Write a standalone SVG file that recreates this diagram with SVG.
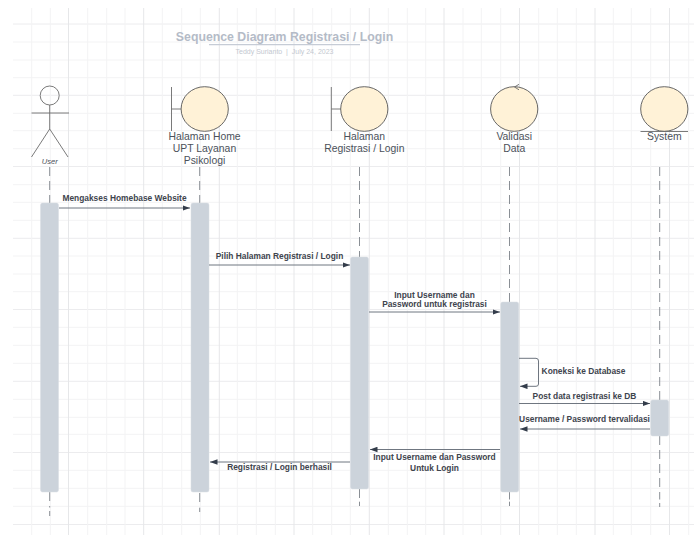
<svg xmlns="http://www.w3.org/2000/svg" width="694" height="535" viewBox="0 0 694 535">
<style>
text{font-family:"Liberation Sans",Arial,sans-serif;text-anchor:middle}
.gmin{stroke:#f3f3f4;stroke-width:1;fill:none}
.gmaj{stroke:#e6e7e9;stroke-width:1;fill:none}
.hmaj{stroke:#ececee;stroke-width:1;fill:none}
.life{stroke:#6c727a;stroke-width:.8;stroke-dasharray:9 5;fill:none}
.act{fill:#ccd3db;stroke:#d8dde3;stroke-width:.5}
.ball{fill:#fff2d7;stroke:#565656;stroke-width:.9}
.sym{stroke:#6b6b6b;stroke-width:.9;fill:none}
.name{font-size:10.4px;fill:#4b515a}
.msg{font-size:8.4px;font-weight:bold;fill:#3e444d}
.conn{stroke:#6f7680;stroke-width:1;fill:none;marker-end:url(#ah)}
</style>
<defs>
<marker id="ah" markerUnits="userSpaceOnUse" markerWidth="9" markerHeight="6" refX="7.5" refY="3" orient="auto"><path d="M0 .2L7.5 3L0 5.8z" fill="#333c4a"/></marker>
</defs>
<rect width="694" height="535" fill="#fff"/>
<g id="grid">
<path class="gmin" d="M13 42H694M13 60H694M13 77.7H694M13 113.3H694M13 130.7H694M13 148.7H694M13 184.7H694M13 202.3H694M13 220.3H694M13 256H694M13 274H694M13 291.7H694M13 327.3H694M13 345.3H694M13 363.3H694M13 399.3H694M13 417.3H694M13 434.3H694M13 470.3H694M13 488.3H694M13 506.3H694"/>
<path class="hmaj" d="M13 24H694M13 95.3H694M13 166.5H694M13 238.3H694M13 309.5H694M13 381.3H694M13 452.5H694M13 524.5H694"/>
<path class="gmin" d="M31.7 8V535M50.3 8V535M87.7 8V535M106.7 8V535M125 8V535M162.3 8V535M181.7 8V535M200.3 8V535M237.3 8V535M256.3 8V535M275.3 8V535M312.7 8V535M331.7 8V535M350.3 8V535M388.3 8V535M407.3 8V535M425.7 8V535M463 8V535M481.3 8V535M500.7 8V535M538.7 8V535M557.3 8V535M576.3 8V535M613.3 8V535M631.3 8V535M650.7 8V535M688.7 8V535"/>
<path class="gmaj" d="M68.5 8V535M143.7 8V535M219.3 8V535M294 8V535M369.3 8V535M444 8V535M519.5 8V535M595 8V535M669.5 8V535"/>
</g>
<g id="title">
<text x="284.500" y="40.500" font-size="12.300" font-weight="bold" fill="#b4bbc7">Sequence Diagram Registrasi / Login</text>
<path d="M209 44.700H360" stroke="#c6ccd6" stroke-width="1.200"/>
<text x="284.500" y="54" font-size="7" fill="#c3c8d0">Teddy Surianto &#160;|&#160; July 24, 2023</text>
</g>
<g id="lifelines">
<path class="life" d="M49.700 167V203M49.700 492V507.500M49.700 511V516"/>
<path class="life" d="M199.700 167V203M199.700 493V505.500M199.700 507.700V512"/>
<path class="life" d="M359.500 167V257M359.500 489V499.500M359.500 501.700V506"/>
<path class="life" d="M509.500 167V302M509.500 492V499.500M509.500 501.700V506"/>
<path class="life" d="M659.700 167V400M659.700 436V499.500M659.700 503V507"/>
</g>
<g id="user">
<circle class="sym" cx="49.700" cy="95.500" r="9.500" fill="#fff"/>
<path class="sym" d="M49.700 105V129M31.500 113H69M49.700 129L31.500 157M49.700 129L68 157"/>
<text x="49.700" y="164" font-size="7.600" font-style="italic" fill="#4b515a">User</text>
<rect class="act" x="40.500" y="203" width="18" height="289" rx="2"/>
</g>
<g id="halaman-home">
<ellipse class="ball" cx="204.700" cy="109" rx="23.600" ry="22.300"/>
<path class="sym" d="M171.500 87V131M171.500 109H181"/>
<text class="name" x="204.500" y="140">Halaman Home</text>
<text class="name" x="204.500" y="152">UPT Layanan</text>
<text class="name" x="204.500" y="164">Psikologi</text>
<rect class="act" x="191" y="203" width="18" height="289" rx="2"/>
</g>
<g id="halaman-registrasi">
<ellipse class="ball" cx="364.300" cy="109" rx="23.600" ry="22.300"/>
<path class="sym" d="M331.300 87V131M331.300 109H341"/>
<text class="name" x="364.300" y="140">Halaman</text>
<text class="name" x="364.300" y="152">Registrasi / Login</text>
<rect class="act" x="350.500" y="257" width="18" height="232" rx="2"/>
</g>
<g id="validasi-data">
<ellipse class="ball" cx="514.200" cy="109" rx="23.600" ry="22.300"/>
<path class="sym" d="M519 84.300L514.500 87L519 89.800"/>
<text class="name" x="514.200" y="140">Validasi</text>
<text class="name" x="514.200" y="152">Data</text>
<rect class="act" x="500.700" y="302" width="18" height="190" rx="2"/>
</g>
<g id="system">
<ellipse class="ball" cx="664.300" cy="109" rx="23.600" ry="22.300"/>
<path class="sym" d="M640.500 131.500H688"/>
<text class="name" x="664.300" y="140">System</text>
<rect class="act" x="650.700" y="400" width="18" height="36" rx="2"/>
</g>
<g id="connectors">
<path class="conn" d="M59 208H190"/>
<path class="conn" d="M209 265H350"/>
<path class="conn" d="M369 312H500"/>
<path class="conn" d="M519 358.300H536Q538.500 358.300 538.500 361V384Q538.500 386.300 536 386.300H520"/>
<path class="conn" d="M519 403.500H650"/>
<path class="conn" d="M650 429H520"/>
<path class="conn" d="M500 449.500H370"/>
<path class="conn" d="M350 462H210"/>
</g>
<g id="labels">
<text class="msg" x="124.500" y="201">Mengakses Homebase Website</text>
<text class="msg" x="279.500" y="258.500">Pilih Halaman Registrasi / Login</text>
<text class="msg" x="434.500" y="297.500">Input Username dan</text>
<text class="msg" x="434.500" y="307">Password untuk registrasi</text>
<text class="msg" x="583.500" y="374">Koneksi ke Database</text>
<text class="msg" x="584.500" y="399">Post data registrasi ke DB</text>
<text class="msg" x="584.500" y="422">Username / Password tervalidasi</text>
<text class="msg" x="434.500" y="460">Input Username dan Password</text>
<text class="msg" x="434.500" y="471">Untuk Login</text>
<text class="msg" x="279.500" y="470">Registrasi / Login berhasil</text>
</g>
</svg>
